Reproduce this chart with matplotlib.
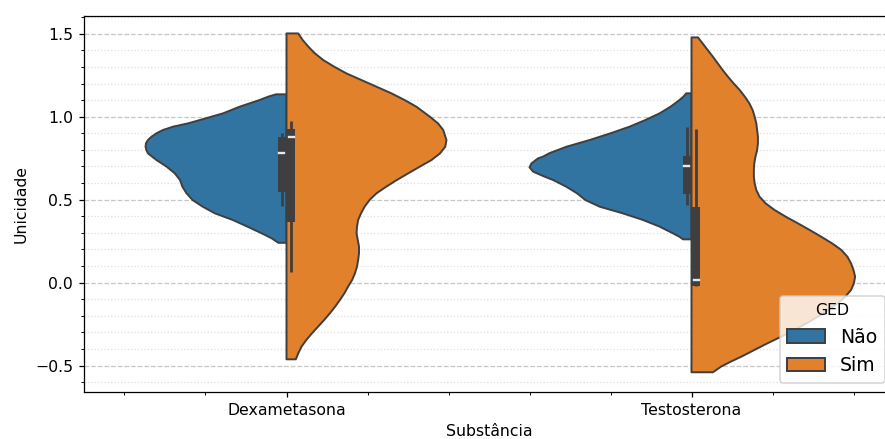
import matplotlib.pyplot as plt
from matplotlib.patches import Patch, Rectangle
from matplotlib.ticker import MultipleLocator

substancias = ["Dexametasona", "Testosterona"]
grupos = ["Não", "Sim"]
cores = ["#3274a1", "#e1812c"]

# half-violin profiles: y from top to bottom, half width at each y
dex_nao_y = [1.135, 1.121, 1.101, 1.061, 1.020, 0.980, 0.960, 0.940, 0.920, 0.900, 0.880, 0.860, 0.840,
             0.819, 0.799, 0.779, 0.739, 0.699, 0.659, 0.619, 0.578, 0.539, 0.498, 0.458, 0.418, 0.378,
             0.336, 0.290, 0.265, 0.240]
dex_nao_w = [0.026, 0.045, 0.066, 0.115, 0.157, 0.214, 0.243, 0.280, 0.305, 0.321, 0.333, 0.342, 0.347,
             0.348, 0.346, 0.342, 0.321, 0.296, 0.276, 0.263, 0.257, 0.247, 0.232, 0.207, 0.177, 0.133,
             0.095, 0.055, 0.035, 0.020]

dex_sim_y = [1.502, 1.462, 1.422, 1.382, 1.341, 1.301, 1.261, 1.221, 1.181, 1.141, 1.100, 1.060, 1.000,
             0.960, 0.920, 0.859, 0.819, 0.779, 0.739, 0.699, 0.658, 0.618, 0.578, 0.538, 0.498, 0.458,
             0.418, 0.378, 0.337, 0.297, 0.257, 0.217, 0.177, 0.137, 0.096, 0.056, 0.016, -0.024, -0.064,
             -0.104, -0.145, -0.185, -0.225, -0.265, -0.305, -0.345, -0.386, -0.426, -0.462]
dex_sim_w = [0.029, 0.040, 0.054, 0.070, 0.091, 0.118, 0.148, 0.185, 0.222, 0.259, 0.292, 0.321, 0.354,
             0.374, 0.387, 0.395, 0.392, 0.379, 0.358, 0.329, 0.300, 0.272, 0.246, 0.222, 0.205, 0.193,
             0.184, 0.177, 0.174, 0.173, 0.176, 0.179, 0.179, 0.177, 0.174, 0.169, 0.162, 0.152, 0.143,
             0.132, 0.120, 0.107, 0.093, 0.078, 0.063, 0.049, 0.037, 0.029, 0.023]

tes_nao_y = [1.141, 1.121, 1.100, 1.060, 1.020, 0.980, 0.940, 0.900, 0.860, 0.819, 0.780, 0.759, 0.749,
             0.719, 0.695, 0.669, 0.639, 0.619, 0.578, 0.539, 0.498, 0.458, 0.418, 0.378, 0.338, 0.300,
             0.277, 0.261]
tes_nao_w = [0.013, 0.020, 0.030, 0.052, 0.079, 0.114, 0.153, 0.200, 0.251, 0.309, 0.351, 0.367, 0.379,
             0.395, 0.400, 0.391, 0.363, 0.342, 0.309, 0.283, 0.262, 0.227, 0.170, 0.120, 0.079, 0.048,
             0.030, 0.021]

tes_sim_y = [1.478, 1.440, 1.402, 1.361, 1.321, 1.281, 1.241, 1.201, 1.161, 1.120, 1.080, 1.040, 1.000,
             0.960, 0.920, 0.880, 0.839, 0.799, 0.759, 0.719, 0.679, 0.638, 0.598, 0.558, 0.518, 0.478,
             0.438, 0.397, 0.357, 0.317, 0.277, 0.237, 0.197, 0.156, 0.116, 0.076, 0.036, -0.004, -0.044,
             -0.084, -0.124, -0.165, -0.205, -0.245, -0.285, -0.325, -0.365, -0.406, -0.446, -0.476,
             -0.506, -0.540]
tes_sim_w = [0.016, 0.028, 0.040, 0.053, 0.065, 0.077, 0.090, 0.104, 0.119, 0.132, 0.143, 0.151, 0.156,
             0.160, 0.162, 0.164, 0.164, 0.162, 0.158, 0.155, 0.154, 0.154, 0.156, 0.160, 0.168, 0.183,
             0.205, 0.233, 0.263, 0.292, 0.320, 0.347, 0.370, 0.385, 0.394, 0.400, 0.404, 0.401, 0.394,
             0.380, 0.361, 0.338, 0.312, 0.284, 0.254, 0.222, 0.188, 0.155, 0.123, 0.097, 0.073, 0.053]

# box stats: whisker low, q1, median, q3, whisker high
dex_nao_box = [0.462, 0.548, 0.780, 0.880, 0.904]
dex_sim_box = [0.066, 0.364, 0.876, 0.924, 0.976]
tes_nao_box = [0.468, 0.534, 0.701, 0.763, 0.936]
tes_sim_box = [-0.018, -0.018, 0.016, 0.458, 0.926]

perfis = {
    (0, 0): (dex_nao_y, dex_nao_w, dex_nao_box),
    (0, 1): (dex_sim_y, dex_sim_w, dex_sim_box),
    (1, 0): (tes_nao_y, tes_nao_w, tes_nao_box),
    (1, 1): (tes_sim_y, tes_sim_w, tes_sim_box),
}

linha = "#3f3f3f"
fig = plt.figure(figsize=(885 / 113, 439 / 113), dpi=113)
ax = fig.add_axes([84 / 885, 47 / 439, 810 / 885, 376 / 439])

for (i, h), (ys, ws, box) in perfis.items():
    lado = -1 if h == 0 else 1
    xs = [i] + [i + lado * w for w in ws] + [i]
    yy = [ys[0]] + ys + [ys[-1]]
    ax.fill(xs, yy, facecolor=cores[h], edgecolor=linha, linewidth=1.25, joinstyle="round", zorder=2)

# inner boxes, one per half
for (i, h), (ys, ws, box) in perfis.items():
    lo, q1, med, q3, hi = box
    x0 = i - 0.022 if h == 0 else i + 0.001
    bw = 0.021
    ax.plot([x0 + bw / 2, x0 + bw / 2], [lo, hi], color=linha, lw=1.8, solid_capstyle="butt", zorder=3)
    ax.add_patch(Rectangle((x0, q1), bw, q3 - q1, facecolor=linha, edgecolor="none", zorder=3))
    ax.plot([x0 + 0.004, x0 + bw - 0.004], [med, med], color="#e8e8e8", lw=1.5, zorder=4)

ax.set_xlim(-0.5, 1.5)
ax.set_ylim(-0.659, 1.607)
ax.set_xticks([0, 1])
ax.set_xticklabels(substancias)
ax.xaxis.set_minor_locator(MultipleLocator(0.2))
ax.yaxis.set_major_locator(MultipleLocator(0.5))
ax.yaxis.set_minor_locator(MultipleLocator(0.1))
ax.spines["right"].set_visible(False)
ax.set_axisbelow(True)
ax.grid(axis="y", which="major", linestyle="--", alpha=0.7)
ax.grid(axis="y", which="minor", linestyle=":", alpha=0.4)
ax.set_xlabel("Substância")
ax.set_ylabel("Unicidade")

handles = [Patch(facecolor=c, edgecolor=linha, linewidth=1.25, label=g) for g, c in zip(grupos, cores)]
ax.legend(handles=handles, title="GED", loc="lower right", fontsize=12, title_fontsize=10)

fig.savefig("out.png", dpi=113)
